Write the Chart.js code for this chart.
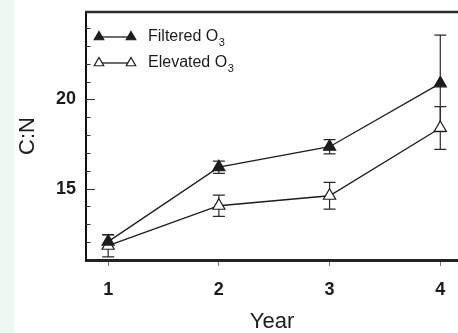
<!DOCTYPE html>
<html>
<head>
<meta charset="utf-8">
<script src="https://cdn.jsdelivr.net/npm/chart.js@4/dist/chart.umd.min.js"></script>
<style>
  html, body { margin: 0; padding: 0; }
  body { width: 458px; height: 333px; overflow: hidden;
         background: linear-gradient(to right, #eef6f2 0px, #eef6f2 14px, #ffffff 14px); }
  canvas { display: block; }
</style>
</head>
<body>
<canvas id="c" width="458" height="333"></canvas>
<script>
// ---- data ----
const years = [1, 2, 3, 4];
const filteredCN = [12.03, 16.2, 17.35, 20.9];
const filteredErr = [0.37, 0.34, 0.4, 2.7];
const elevatedCN = [11.8, 14.04, 14.6, 18.4];
const elevatedErr = [0.62, 0.6, 0.75, 1.2];
const seriesNames = ['Filtered O', 'Elevated O'];
const seriesSub = ['3', '3'];
const yTickValues = [12, 13, 14, 15, 16, 17, 18, 19, 20, 21, 22, 23, 24];
const yLabelTicks = [15, 20];
const xTitle = 'Year';
const yTitle = 'C:N';

const FONT = "'Liberation Sans', Arial, Helvetica, sans-serif";
Chart.defaults.font.family = FONT;
const INK = '#1c1c1c';

const errs = [filteredErr, elevatedErr];
const fills = [INK, '#ffffff'];

function toPoints(vals) { return years.map((x, i) => ({ x: x, y: vals[i] })); }

const errorBarPlugin = {
  id: 'errorBars',
  beforeDatasetsDraw(chart) {
    const ctx = chart.ctx, xs = chart.scales.x, ys = chart.scales.y;
    ctx.save();
    ctx.strokeStyle = '#2a2a2a';
    ctx.lineWidth = 1.2;
    chart.data.datasets.forEach((ds, di) => {
      ds.data.forEach((p, i) => {
        const e = errs[di][i];
        const px = xs.getPixelForValue(p.x);
        const top = ys.getPixelForValue(p.y + e);
        const bot = ys.getPixelForValue(p.y - e);
        ctx.beginPath();
        ctx.moveTo(px, top); ctx.lineTo(px, bot);
        ctx.moveTo(px - 6, top); ctx.lineTo(px + 6, top);
        ctx.moveTo(px - 6, bot); ctx.lineTo(px + 6, bot);
        ctx.stroke();
      });
    });
    ctx.restore();
  },
  afterDraw(chart) {
    const ctx = chart.ctx, ca = chart.chartArea, ys = chart.scales.y;
    ctx.save();
    // top frame line
    ctx.strokeStyle = '#2a2a2a';
    ctx.lineWidth = 2.5;
    ctx.beginPath();
    ctx.moveTo(ca.left - 1, ca.top); ctx.lineTo(ca.right, ca.top);
    ctx.stroke();
    // inward y tick marks
    ctx.lineWidth = 1;
    ctx.strokeStyle = '#333';
    ys.ticks.forEach(t => {
      if (t.value <= ys.min) return;
      const y = Math.round(ys.getPixelForValue(t.value)) + 0.5;
      const len = yLabelTicks.includes(t.value) ? 9 : 4.5;
      ctx.beginPath();
      ctx.moveTo(ca.left, y); ctx.lineTo(ca.left + len, y);
      ctx.stroke();
    });
    // legend
    const lx0 = ca.left + 13, lx1 = ca.left + 45, tx = ca.left + 62;
    seriesNames.forEach((name, i) => {
      const y = ca.top + 25 + i * 26;
      ctx.strokeStyle = INK;
      ctx.lineWidth = 1.3;
      ctx.beginPath(); ctx.moveTo(lx0, y); ctx.lineTo(lx1, y); ctx.stroke();
      [lx0, lx1].forEach(x => {
        const r = 5.5;
        ctx.beginPath();
        ctx.moveTo(x, y - r);
        ctx.lineTo(x + r * Math.sin(2 * Math.PI / 3), y - r * Math.cos(2 * Math.PI / 3));
        ctx.lineTo(x + r * Math.sin(4 * Math.PI / 3), y - r * Math.cos(4 * Math.PI / 3));
        ctx.closePath();
        ctx.fillStyle = fills[i];
        ctx.fill();
        ctx.lineWidth = 1.2;
        ctx.stroke();
      });
      ctx.fillStyle = INK;
      ctx.textBaseline = 'middle';
      ctx.textAlign = 'left';
      ctx.font = '16px ' + FONT;
      ctx.fillText(name, tx, y);
      const w = ctx.measureText(name).width;
      ctx.font = '11px ' + FONT;
      ctx.fillText(seriesSub[i], tx + w + 0.5, y + 6);
    });
    ctx.restore();
  }
};

new Chart(document.getElementById('c'), {
  type: 'line',
  data: {
    datasets: [
      { label: seriesNames[0] + seriesSub[0], data: toPoints(filteredCN),
        borderColor: INK, borderWidth: 1.3, tension: 0,
        pointStyle: 'triangle', pointRadius: 7, pointBorderWidth: 1.2,
        pointBackgroundColor: fills[0], pointBorderColor: INK },
      { label: seriesNames[1] + seriesSub[1], data: toPoints(elevatedCN),
        borderColor: INK, borderWidth: 1.3, tension: 0,
        pointStyle: 'triangle', pointRadius: 7, pointBorderWidth: 1.2,
        pointBackgroundColor: fills[1], pointBorderColor: INK }
    ]
  },
  options: {
    responsive: false,
    animation: false,
    devicePixelRatio: 1,
    layout: { autoPadding: false, padding: { top: 12, left: 0, right: 0, bottom: 0 } },
    plugins: { legend: { display: false }, tooltip: { enabled: false } },
    scales: {
      x: {
        type: 'linear', min: 0.8, max: 4.16,
        afterBuildTicks: s => { s.ticks = years.map(v => ({ value: v })); },
        afterFit: s => { s.height = 73; s.paddingLeft = 0; s.paddingRight = 0; },
        ticks: { stepSize: 1, padding: 13, color: INK, font: { size: 18, weight: 'bold' },
                 autoSkip: false, maxRotation: 0 },
        grid: { display: true, drawOnChartArea: false, drawTicks: true, tickLength: 6,
                color: '#777', lineWidth: 1 },
        border: { display: true, width: 3, color: '#222' },
        title: { display: true, text: xTitle, color: INK, font: { size: 22, lineHeight: 1 },
                 padding: { top: 0, bottom: 0 } }
      },
      y: {
        type: 'linear', min: 11, max: 24.9,
        afterBuildTicks: s => { s.ticks = yTickValues.map(v => ({ value: v })); },
        afterFit: s => { s.width = 86; s.paddingTop = 0; s.paddingBottom = 0; },
        ticks: { stepSize: 1, padding: 10, color: INK, autoSkip: false,
                 font: { size: 18, weight: 'bold' },
                 callback: v => yLabelTicks.includes(v) ? String(v) : '' },
        grid: { display: false, drawTicks: false },
        border: { display: true, width: 2, color: '#111' },
        title: { display: true, text: yTitle, color: INK, font: { size: 22, lineHeight: 1 },
                 padding: { top: 17, bottom: 0 } }
      }
    }
  },
  plugins: [errorBarPlugin]
});
</script>
</body>
</html>
